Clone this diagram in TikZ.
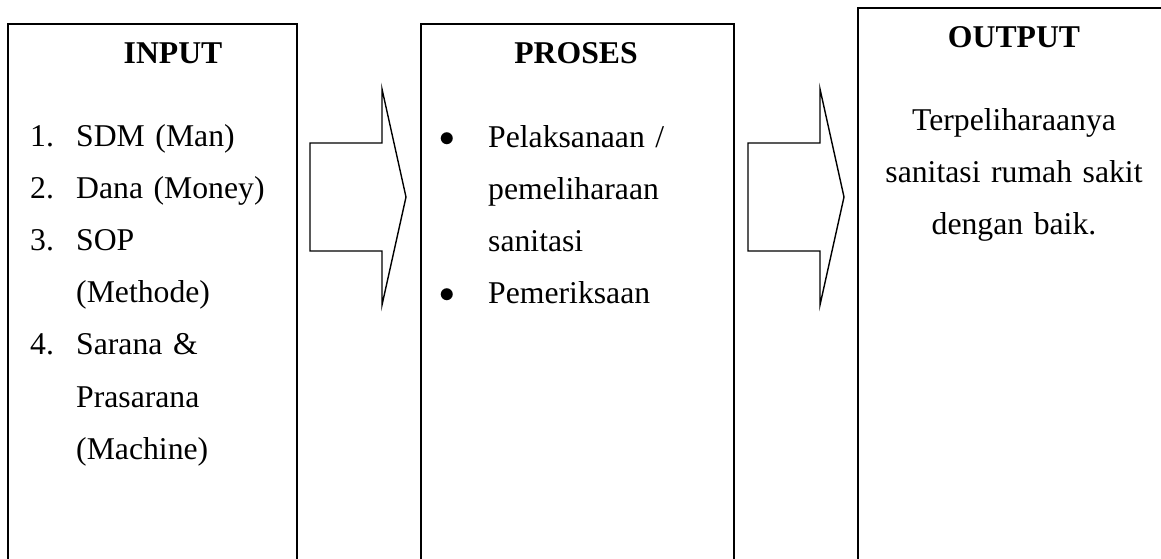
\documentclass[tikz,border=0pt]{standalone}
\usepackage{fontspec}
\setmainfont{Liberation Serif}
\newcommand{\listdot}{\raisebox{1pt}{\scalebox{1.25}{$\bullet$}}}

\begin{document}
\begin{tikzpicture}[x=1pt, y=-1pt,
    box/.style={draw, line width=1.6pt, inner sep=0pt, anchor=north west},
    blockarrow/.style={draw, line width=1.4pt, line join=miter},
    title/.style={font=\fontsize{31.7}{52.2}\selectfont\bfseries, inner sep=0pt, anchor=base},
    body/.style={font=\fontsize{31.7}{52.2}\selectfont, inner sep=0pt, text width=#1}]
  \useasboundingbox (0, 0) rectangle (1161, 558);
  \clip (0, 0) rectangle (1161, 558);

  % Draw the three boxes (open at the bottom of the page)
  \node[box, minimum width=289pt, minimum height=600pt] (input) at (7, 23) {};
  \node[box, minimum width=313pt, minimum height=600pt] (proses) at (420, 23) {};
  \node[box, minimum width=400pt, minimum height=600pt] (output) at (857, 7) {};

  % Draw the block arrows between the boxes
  \draw[blockarrow] (310, 143) -- (382, 143) -- (382, 89) -- (406, 197)
    -- (382, 305) -- (382, 251) -- (310, 251) -- cycle;
  \draw[blockarrow] (748, 143) -- (820, 143) -- (820, 89) -- (844, 197)
    -- (820, 305) -- (820, 251) -- (748, 251) -- cycle;

  % Add the headings
  \node[title] (inputtitle) at (173, 63) {INPUT};
  \node[title] (prosestitle) at (576, 63) {PROSES};
  \node[title] (outputtitle) at (1014, 47) {OUTPUT};

  % Add the input list
  \node[body=260pt, align=left, anchor=base west] (inputlist) at (30, 146) {%
    \makebox[46pt][l]{1.}SDM (Man)\\
    \makebox[46pt][l]{2.}Dana (Money)\\
    \makebox[46pt][l]{3.}SOP\\
    \hspace*{46pt}(Methode)\\
    \makebox[46pt][l]{4.}Sarana \&\\
    \hspace*{46pt}Prasarana\\
    \hspace*{46pt}(Machine)};

  % Add the process list
  \node[body=280pt, align=left, anchor=base west] (proseslist) at (439, 147) {%
    \makebox[49pt][l]{\listdot}Pelaksanaan /\\
    \hspace*{49pt}pemeliharaan\\
    \hspace*{49pt}sanitasi\\
    \makebox[49pt][l]{\listdot}Pemeriksaan};

  % Add the output text
  \node[body=290pt, align=center, anchor=base] (outputtext) at (1014, 130) {%
    Terpeliharaanya\\ sanitasi rumah sakit\\ dengan baik.};
\end{tikzpicture}
\end{document}
